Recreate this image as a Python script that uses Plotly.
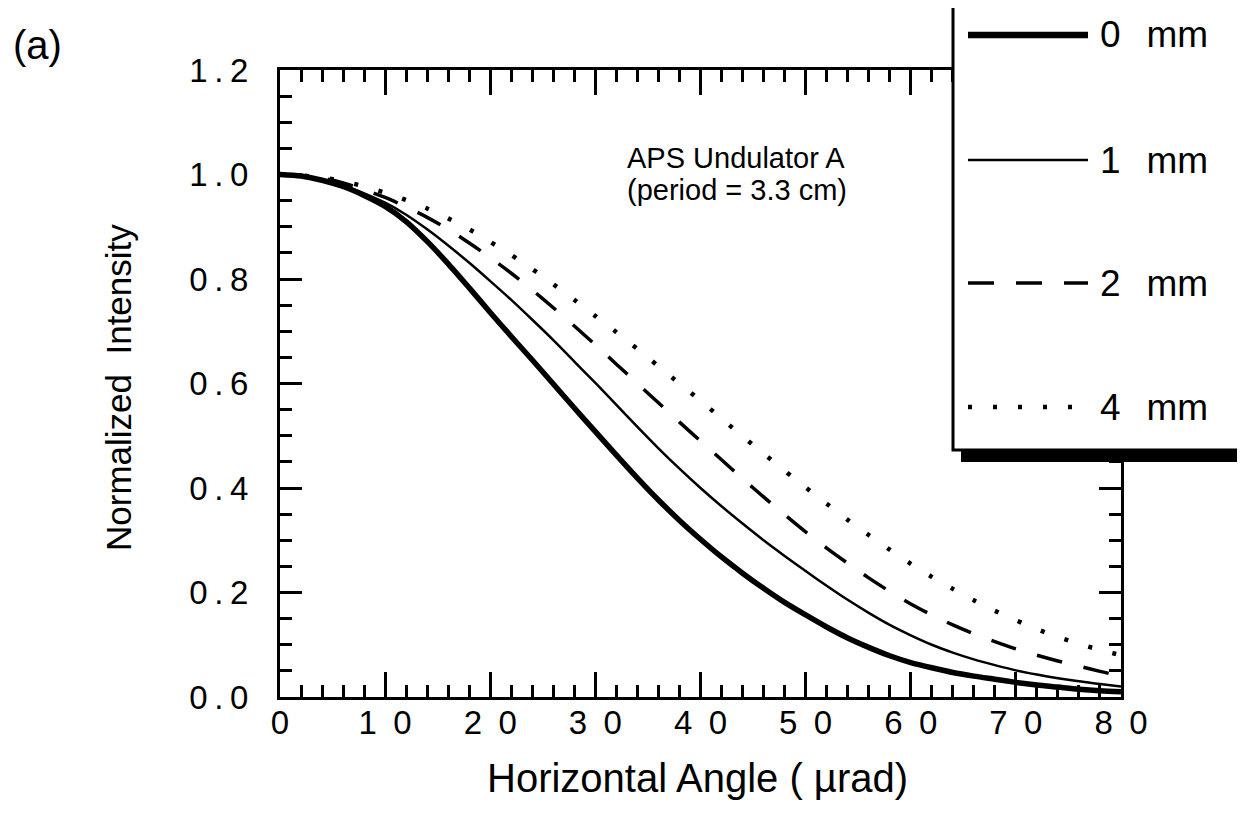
import plotly.graph_objects as go

angle = [0, 2, 4, 6, 8, 10, 12, 14, 16, 18, 20, 22, 24, 26, 28, 30, 32, 34, 36, 38, 40,
         42, 44, 46, 48, 50, 52, 54, 56, 58, 60, 62, 64, 66, 68, 70, 72, 74, 76, 78, 80]

i_0mm = [1.0, 0.997, 0.989, 0.977, 0.960, 0.939, 0.910, 0.872, 0.829, 0.783, 0.736,
         0.690, 0.645, 0.599, 0.553, 0.508, 0.463, 0.419, 0.377, 0.338, 0.302,
         0.268, 0.237, 0.208, 0.181, 0.157, 0.134, 0.113, 0.095, 0.079, 0.066,
         0.056, 0.047, 0.040, 0.034, 0.028, 0.023, 0.019, 0.015, 0.012, 0.010]

i_1mm = [1.0, 0.997, 0.990, 0.979, 0.964, 0.946, 0.923, 0.895, 0.864, 0.831, 0.796,
         0.760, 0.722, 0.683, 0.642, 0.601, 0.559, 0.517, 0.476, 0.437, 0.400,
         0.365, 0.332, 0.300, 0.270, 0.241, 0.213, 0.186, 0.161, 0.138, 0.118,
         0.100, 0.085, 0.072, 0.061, 0.051, 0.043, 0.036, 0.030, 0.025, 0.020]

i_2mm = [1.0, 0.998, 0.993, 0.984, 0.971, 0.956, 0.938, 0.918, 0.895, 0.869, 0.841,
         0.811, 0.779, 0.745, 0.710, 0.674, 0.637, 0.600, 0.563, 0.526, 0.490,
         0.454, 0.418, 0.383, 0.349, 0.316, 0.285, 0.256, 0.228, 0.202, 0.178,
         0.157, 0.138, 0.121, 0.106, 0.092, 0.080, 0.069, 0.059, 0.049, 0.040]

i_4mm = [1.0, 0.998, 0.994, 0.987, 0.977, 0.965, 0.951, 0.935, 0.916, 0.895, 0.871,
         0.846, 0.819, 0.790, 0.760, 0.729, 0.698, 0.666, 0.633, 0.600, 0.567,
         0.533, 0.499, 0.466, 0.433, 0.401, 0.370, 0.339, 0.310, 0.282, 0.255,
         0.230, 0.207, 0.185, 0.165, 0.147, 0.130, 0.115, 0.102, 0.090, 0.080]

series_names = ["0 mm", "1 mm", "2 mm", "4 mm"]
series_values = [i_0mm, i_1mm, i_2mm, i_4mm]
series_styles = [dict(width=5.5, dash="solid"),
                 dict(width=2.5, dash="solid"),
                 dict(width=3.5, dash="26px,22px"),
                 dict(width=4.5, dash="4px,21px")]

x_ticks = [0, 10, 20, 30, 40, 50, 60, 70, 80]
x_ticktext = ["0", "1\u20020", "2\u20020", "3\u20020", "4\u20020", "5\u20020",
              "6\u20020", "7\u20020", "8\u20020"]
y_ticks = [0.0, 0.2, 0.4, 0.6, 0.8, 1.0, 1.2]
y_ticktext = ["0\u2009.\u20090", "0\u2009.\u20092", "0\u2009.\u20094", "0\u2009.\u20096",
              "0\u2009.\u20098", "1\u2009.\u20090", "1\u2009.\u20092"]

FONT = "Liberation Sans, Arial, sans-serif"

fig = go.Figure()
for name, vals, st in zip(series_names, series_values, series_styles):
    fig.add_trace(go.Scatter(x=angle, y=vals, mode="lines", name=name,
                             line=dict(color="black", width=st["width"], dash=st["dash"],
                                       shape="spline", smoothing=0.8),
                             showlegend=False))

# page body has an 8px margin; figure is shrunk so the page fits the window
OFF = 8
FIG_W, FIG_H = 1245 - 2 * OFF, 825 - 2 * OFF
# plot area in window pixels
L, R, T, B = 280, 1121, 70, 697
W, H = R - L, B - T
def px(x):
    return (x - L) / W
def py(y):
    return (B - y) / H

shapes = []
shapes.append(dict(type="rect", xref="paper", yref="paper", x0=px(961), x1=px(1290),
                   y0=py(462), y1=py(-20), fillcolor="black", line=dict(width=0), layer="above"))
shapes.append(dict(type="rect", xref="paper", yref="paper", x0=px(953), x1=px(1282),
                   y0=py(450), y1=py(-30), fillcolor="white",
                   line=dict(color="black", width=3), layer="above"))
legend_y = [35, 160, 283, 407]
legend_widths = [6.5, 2.5, 3.5, 4.5]
annotations = []
for name, st, lw, ly in zip(series_names, series_styles, legend_widths, legend_y):
    shapes.append(dict(type="line", xref="paper", yref="paper", x0=px(968), x1=px(1088),
                       y0=py(ly), y1=py(ly),
                       line=dict(color="black", width=lw, dash=st["dash"]),
                       layer="above"))
    annotations.append(dict(xref="paper", yref="paper", x=px(1098), y=py(ly),
                            xanchor="left", yanchor="middle", showarrow=False,
                            text=name.replace(" ", "\u2002\u2009"),
                            font=dict(family=FONT, size=37, color="black")))

annotations += [
    dict(xref="paper", yref="paper", x=px(736), y=py(158), text="APS Undulator A",
         showarrow=False, xanchor="center", yanchor="middle",
         font=dict(family=FONT, size=29, color="black")),
    dict(xref="paper", yref="paper", x=px(737), y=py(190), text="(period = 3.3 cm)",
         showarrow=False, xanchor="center", yanchor="middle",
         font=dict(family=FONT, size=29, color="black")),
    dict(xref="paper", yref="paper", x=px(697), y=py(778), text="Horizontal Angle ( \u00b5rad)",
         showarrow=False, xanchor="center", yanchor="middle",
         font=dict(family=FONT, size=40, color="black")),
    dict(xref="paper", yref="paper", x=px(118), y=py(388), text="Normalized  Intensity",
         showarrow=False, xanchor="center", yanchor="middle", textangle=-90,
         font=dict(family=FONT, size=35, color="black")),
    dict(xref="paper", yref="paper", x=px(37), y=py(45), text="(a)",
         showarrow=False, xanchor="center", yanchor="middle",
         font=dict(family=FONT, size=40, color="black")),
]

axis_common = dict(showline=True, linecolor="black", linewidth=3, mirror="ticks",
                   ticks="inside", tickcolor="black", tickwidth=3, showgrid=False,
                   zeroline=False, tickfont=dict(family=FONT, size=33, color="black"))

fig.update_layout(
    width=FIG_W, height=FIG_H,
    margin=dict(l=L - OFF, r=FIG_W - (R - OFF), t=T - OFF, b=FIG_H - (B - OFF)),
    paper_bgcolor="white", plot_bgcolor="white",
    shapes=shapes, annotations=annotations,
    xaxis=dict(range=[0, 80], tickvals=x_ticks, ticktext=x_ticktext, ticklen=25,
               ticklabelstandoff=-6,
               minor=dict(ticks="inside", dtick=2, ticklen=12, tickwidth=3, tickcolor="black",
                          showgrid=False),
               **axis_common),
    yaxis=dict(range=[0, 1.2], tickvals=y_ticks, ticktext=y_ticktext, ticklen=22,
               ticklabelstandoff=22,
               minor=dict(ticks="inside", dtick=0.05, ticklen=12, tickwidth=3, tickcolor="black",
                          showgrid=False),
               **axis_common),
)

fig.write_html("out.html")
